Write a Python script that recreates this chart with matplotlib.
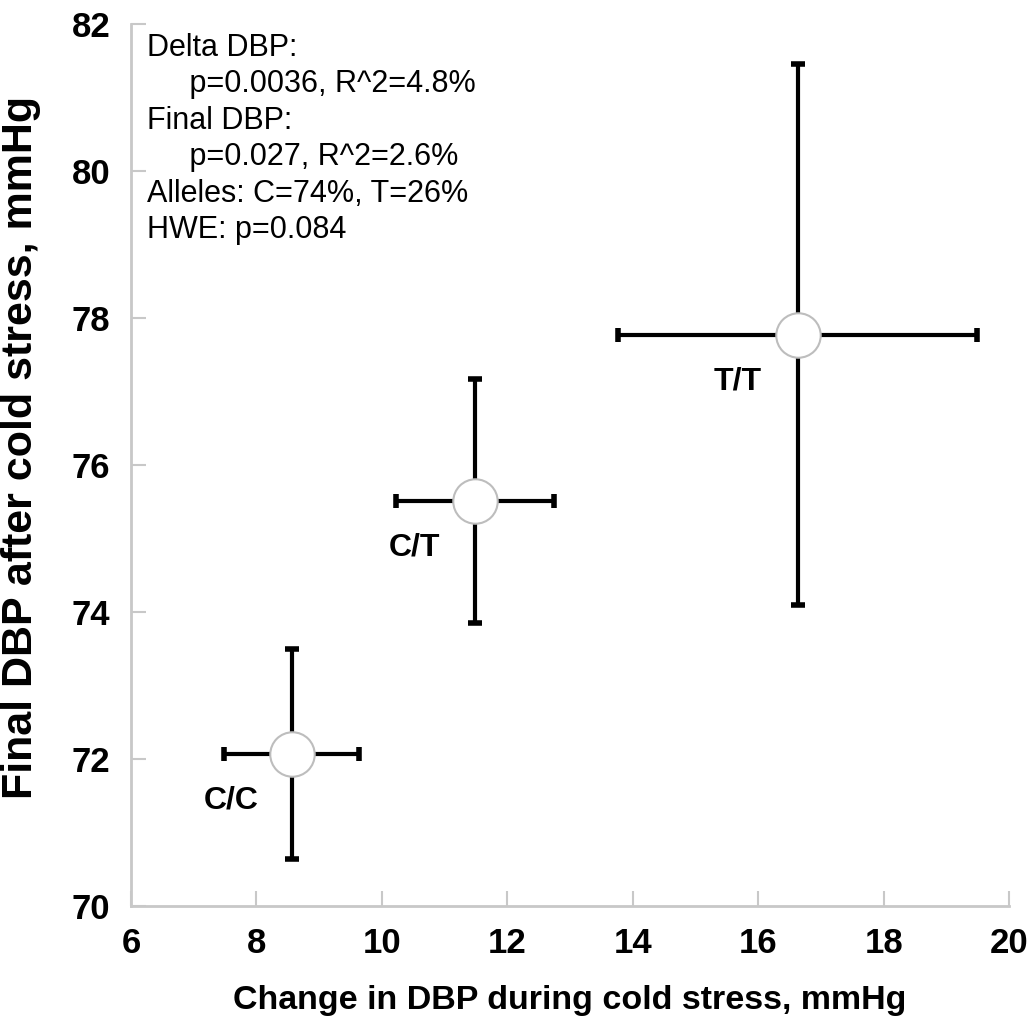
import matplotlib
matplotlib.use("Agg")
import matplotlib.pyplot as plt

genotypes = ["C/C", "C/T", "T/T"]
delta_dbp = [8.56, 11.48, 16.63]
delta_err = [1.08, 1.26, 2.86]
final_dbp = [72.07, 75.51, 77.77]
final_err = [1.43, 1.66, 3.68]
x_ticks = [6, 8, 10, 12, 14, 16, 18, 20]
y_ticks = [70, 72, 74, 76, 78, 80, 82]
stats_text = ("Delta DBP:\n     p=0.0036, R^2=4.8%\nFinal DBP:\n     p=0.027, R^2=2.6%\n"
              "Alleles: C=74%, T=26%\nHWE: p=0.084")

plt.rcParams['font.family'] = ['Liberation Sans', 'DejaVu Sans']

fig = plt.figure(figsize=(10.35, 10.26), dpi=100)
ax = fig.add_axes([0.1266, 0.117, 0.8484, 0.8596])

ax.errorbar(delta_dbp, final_dbp, xerr=delta_err, yerr=final_err, fmt='none',
            ecolor='black', elinewidth=3.0, capsize=5, capthick=4, zorder=2)
ax.plot(delta_dbp, final_dbp, 'o', markersize=32, markerfacecolor='white',
        markeredgecolor='#bdbdbd', markeredgewidth=1.5, zorder=3, linestyle='none')

for g, x, y in zip(genotypes, delta_dbp, final_dbp):
    ax.annotate(g, (x, y), xytext=(-60, -47), textcoords='offset pixels',
                ha='center', va='center', fontsize=23, fontweight='bold')

ax.text(0.018, 0.99, stats_text, transform=ax.transAxes, ha='left', va='top',
        fontsize=22, linespacing=1.28)

ax.set_xlim(6, 20)
ax.set_ylim(70, 82)
ax.set_xticks(x_ticks)
ax.set_yticks(y_ticks)
for lab in ax.get_xticklabels() + ax.get_yticklabels():
    lab.set_fontweight('bold')
ax.tick_params(direction='in', length=11, width=1.5, color='#c8c8c8',
               labelsize=25, pad=15)
for s in ['top', 'right']:
    ax.spines[s].set_visible(False)
for s in ['left', 'bottom']:
    ax.spines[s].set_color('#c8c8c8')
    ax.spines[s].set_linewidth(2)

ax.set_xlabel("Change in DBP during cold stress, mmHg", fontsize=24.5,
              fontweight='bold')
ax.xaxis.set_label_coords(0.5, -0.09)
ax.set_ylabel("Final DBP after cold stress, mmHg", fontsize=31,
              fontweight='bold')
ax.yaxis.set_label_coords(-0.102, 0.52)

fig.savefig("out.png", dpi=100)
